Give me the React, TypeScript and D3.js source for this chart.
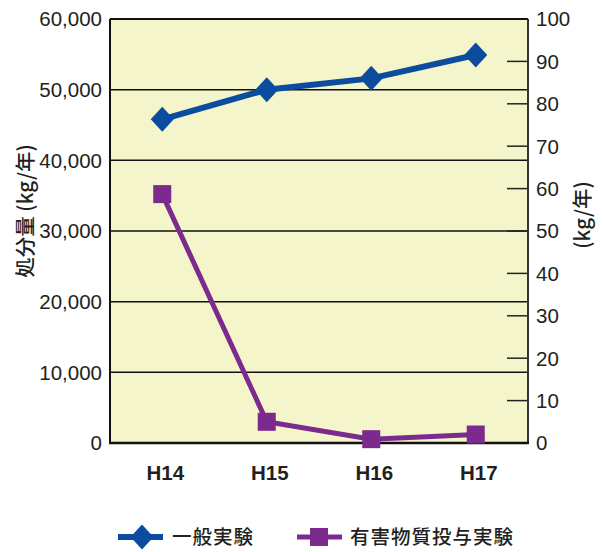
import React from "react";
import * as d3 from "d3";

const categories = ["H14", "H15", "H16", "H17"];
const generalValues = [45800, 50000, 51600, 54900];
const toxicValues = [58.7, 5.0, 0.9, 2.0];
const leftTicks = [0, 10000, 20000, 30000, 40000, 50000, 60000];
const rightTicks = [0, 10, 20, 30, 40, 50, 60, 70, 80, 90, 100];
const seriesNames = ["一般実験", "有害物質投与実験"];
const leftAxisTitle = "処分量 (kg/年)";
const rightAxisTitle = "(kg/年)";

const W = 604, H = 552;
const M = { left: 110, right: 528, top: 19, bottom: 443 };
const BLUE = "#0b4c9e";
const PURPLE = "#7c2a8d";
const BG = "#f4f5ca";
const NUM_FONT = "'Liberation Sans', Arial, sans-serif";
const JP_FONT = "'Noto Sans CJK JP', sans-serif";
const TEXT = "#231f20";

export default function App() {
  const x = d3.scaleBand<string>().domain(categories).range([M.left, M.right]);
  const yL = d3.scaleLinear().domain([0, 60000]).range([M.bottom, M.top]);
  const yR = d3.scaleLinear().domain([0, 100]).range([M.bottom, M.top]);
  const cx = (c: string) => (x(c) ?? 0) + x.bandwidth() / 2;
  const fmt = d3.format(",");

  const lineG = d3.line<number>().x((_, i) => cx(categories[i])).y((d) => yL(d));
  const lineT = d3.line<number>().x((_, i) => cx(categories[i])).y((d) => yR(d));

  const diamond = (px: number, py: number, w: number, h: number) =>
    `M${px},${py - h / 2}L${px + w / 2},${py}L${px},${py + h / 2}L${px - w / 2},${py}Z`;

  return (
    <svg width={W} height={H} style={{ position: "absolute", left: 0, top: 0, background: "#fff" }}>
      <rect x={M.left} y={M.top} width={M.right - M.left} height={M.bottom - M.top} fill={BG} />
      {leftTicks.slice(1, -1).map((t) => (
        <line key={t} x1={M.left} x2={M.right} y1={yL(t)} y2={yL(t)} stroke="#111" strokeWidth={1.5} />
      ))}
      {rightTicks.slice(1, -1).map((t) => (
        <line key={t} x1={M.right - 21} x2={M.right} y1={yR(t)} y2={yR(t)} stroke="#222" strokeWidth={1.5} />
      ))}
      <line x1={M.left} x2={M.right} y1={M.top} y2={M.top} stroke="#111" strokeWidth={2} />
      <line x1={M.left} x2={M.left} y1={M.top} y2={M.bottom} stroke="#111" strokeWidth={2} />
      <line x1={M.right} x2={M.right} y1={M.top} y2={M.bottom} stroke="#333" strokeWidth={2} />
      <line x1={M.left - 1} x2={M.right + 1} y1={M.bottom} y2={M.bottom} stroke="#111" strokeWidth={2.5} />

      {leftTicks.map((t) => (
        <text key={t} x={M.left - 8} y={yL(t)} dy="0.36em" textAnchor="end" fontFamily={NUM_FONT} fontSize={20.5} fill={TEXT}>
          {fmt(t)}
        </text>
      ))}
      {rightTicks.map((t) => (
        <text key={t} x={M.right + 8} y={yR(t)} dy="0.36em" textAnchor="start" fontFamily={NUM_FONT} fontSize={20.5} fill={TEXT}>
          {t}
        </text>
      ))}
      {categories.map((c) => (
        <text key={c} x={cx(c) + 3} y={480} textAnchor="middle" fontFamily={NUM_FONT} fontWeight="bold" fontSize={20.5} fill={TEXT}>
          {c}
        </text>
      ))}

      <text transform={`translate(33,211) rotate(-90)`} textAnchor="middle" fontFamily={JP_FONT} fontWeight={500} fontSize={20.5} fill={TEXT}>
        {leftAxisTitle}
      </text>
      <text transform={`translate(590,215) rotate(-90)`} textAnchor="middle" fontFamily={JP_FONT} fontWeight={500} fontSize={20.5} fill={TEXT}>
        {rightAxisTitle}
      </text>

      <path d={lineG(generalValues) ?? ""} fill="none" stroke={BLUE} strokeWidth={6} />
      {generalValues.map((v, i) => (
        <path key={i} d={diamond(cx(categories[i]), yL(v), 23, 25)} fill={BLUE} />
      ))}
      <path d={lineT(toxicValues) ?? ""} fill="none" stroke={PURPLE} strokeWidth={5} />
      {toxicValues.map((v, i) => (
        <rect key={i} x={cx(categories[i]) - 9} y={yR(v) - 9} width={18} height={18} fill={PURPLE} />
      ))}

      <g>
        <line x1={118} x2={163} y1={537} y2={537} stroke={BLUE} strokeWidth={6} />
        <path d={diamond(142, 537, 23, 25)} fill={BLUE} />
        <text x={172} y={537} dy="0.36em" fontFamily={JP_FONT} fontWeight={500} fontSize={19.5} letterSpacing={1} fill={TEXT}>
          {seriesNames[0]}
        </text>
        <line x1={297} x2={342} y1={537} y2={537} stroke={PURPLE} strokeWidth={5} />
        <rect x={310} y={528} width={18} height={18} fill={PURPLE} />
        <text x={350} y={537} dy="0.36em" fontFamily={JP_FONT} fontWeight={500} fontSize={19.5} letterSpacing={1} fill={TEXT}>
          {seriesNames[1]}
        </text>
      </g>
    </svg>
  );
}
